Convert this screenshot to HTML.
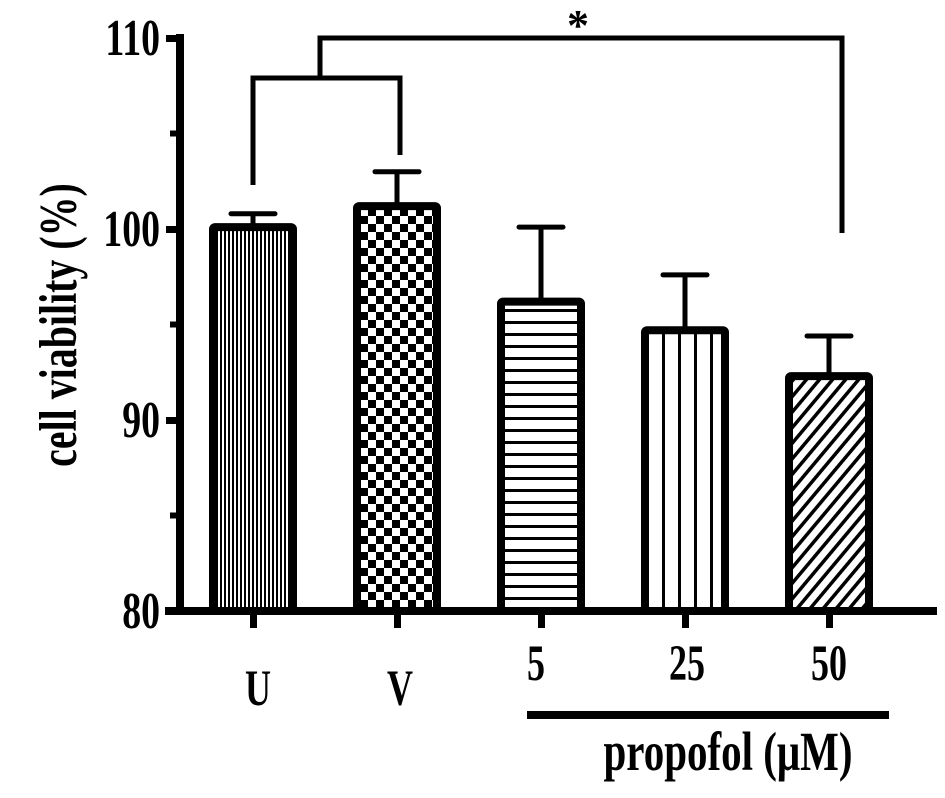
<!DOCTYPE html>
<html><head><meta charset="utf-8"><style>
body{margin:0;background:#fff;}
svg text{font-family:"Liberation Serif",serif;font-weight:bold;fill:#000;}
</style></head><body>
<svg id="chart" width="945" height="793" viewBox="0 0 945 793" xmlns="http://www.w3.org/2000/svg">
<defs>
<pattern id="pU" width="4" height="10" patternUnits="userSpaceOnUse"><rect width="4" height="10" fill="#fff"/><rect width="2" height="10" fill="#000"/></pattern>
<pattern id="pV" width="16" height="16" patternUnits="userSpaceOnUse"><rect width="16" height="16" fill="#fff"/><rect width="8" height="8" fill="#000"/><rect x="8" y="8" width="8" height="8" fill="#000"/></pattern>
<pattern id="p5" width="10" height="12" patternUnits="userSpaceOnUse"><rect width="10" height="12" fill="#fff"/><rect y="9" width="10" height="3" fill="#000"/></pattern>
<pattern id="p25" width="16" height="10" patternUnits="userSpaceOnUse"><rect width="16" height="10" fill="#fff"/><rect x="6" width="3" height="10" fill="#000"/></pattern>
<pattern id="p50" width="10" height="10" patternUnits="userSpaceOnUse" patternTransform="rotate(40)"><rect width="10" height="10" fill="#fff"/><rect width="3.5" height="10" fill="#000"/></pattern>
</defs>
<g id="marks"></g>
<g>
<rect x="176" y="34" width="8" height="581" fill="#000"/>
</g>
<rect x="165" y="607" width="772" height="8" fill="#000"/>
<g id="yticks"></g>
<text transform="translate(76,325) rotate(-90) scale(1.05,1.4)" text-anchor="middle" font-size="38">cell viability (%)</text>
<g stroke="#000" stroke-width="5" fill="none">
<polyline points="253,185 253,78 400,78 400,155"/>
<polyline points="320,78 320,38 842,38 842,233"/>
</g>
<text x="578" y="40" text-anchor="middle" font-size="44">*</text>
<text transform="translate(258,705) scale(1,1.4)" text-anchor="middle" font-size="36">U</text>
<text transform="translate(400,705) scale(1,1.4)" text-anchor="middle" font-size="36">V</text>
<text transform="translate(536,680) scale(1,1.4)" text-anchor="middle" font-size="36">5</text>
<text transform="translate(687,680) scale(1,1.4)" text-anchor="middle" font-size="36">25</text>
<text transform="translate(829,680) scale(1,1.4)" text-anchor="middle" font-size="36">50</text>
<rect x="527" y="711" width="362" height="8" fill="#000"/>
<text transform="translate(728,770) scale(1,1.35)" text-anchor="middle" font-size="41">propofol (μM)</text>
</svg>
<script>
const categories = ["U","V","5","25","50"];
const values = [100.1, 101.2, 96.2, 94.7, 92.3];
const errors = [0.7, 1.8, 3.9, 2.9, 2.1];
const tickLabels = [80, 90, 100, 110];
const minorTicks = [85, 95, 105];

const NS = "http://www.w3.org/2000/svg";
const yMin = 80, yMax = 110, yTop = 38, yBot = 611;
function y(v){ return yBot - (v - yMin) / (yMax - yMin) * (yBot - yTop); }
const x0 = 253, step = 144, barW = 80;
function xc(i){ return x0 + i * step; }
const fills = ["url(#pU)","url(#pV)","url(#p5)","url(#p25)","url(#p50)"];
function mk(tag, attrs, parent){
  const e = document.createElementNS(NS, tag);
  for (const k in attrs) e.setAttribute(k, attrs[k]);
  parent.appendChild(e);
  return e;
}
const marks = document.getElementById("marks");
categories.forEach((c, i) => {
  const cx = xc(i), top = y(values[i]), et = y(values[i] + errors[i]);
  const eb = mk("line", {x1: cx, x2: cx, y1: et, y2: top, stroke: "#000", "stroke-width": 5}, marks);
  
  
  const cap = mk("line", {x1: cx - 22, x2: cx + 22, y1: et, y2: et, stroke: "#000", "stroke-width": 5, "stroke-linecap": "round"}, marks);
  
  
  const r = mk("rect", {x: cx - barW / 2, y: top, width: barW, height: yBot - top, fill: fills[i], stroke: "#000", "stroke-width": 8, rx: 2}, marks);
  
  
  const t = mk("rect", {x: cx - 3, y: 611, width: 7, height: 17, fill: "#000"}, marks);
  
  
});
const yt = document.getElementById("yticks");
tickLabels.forEach(v => {
  const t = mk("rect", {x: 166, y: y(v) - 3, width: 14, height: 7, fill: "#000"}, yt);
  
  
  const l = mk("text", {transform: "translate(160," + (y(v) + 17) + ") scale(1.05,1.45)", "text-anchor": "end", "font-size": 36}, yt);
  l.textContent = v;
  
  
});
minorTicks.forEach(v => {
  const t = mk("rect", {x: 170, y: y(v) - 3, width: 10, height: 6, fill: "#000"}, yt);
  
  
});
</script>
</body></html>
